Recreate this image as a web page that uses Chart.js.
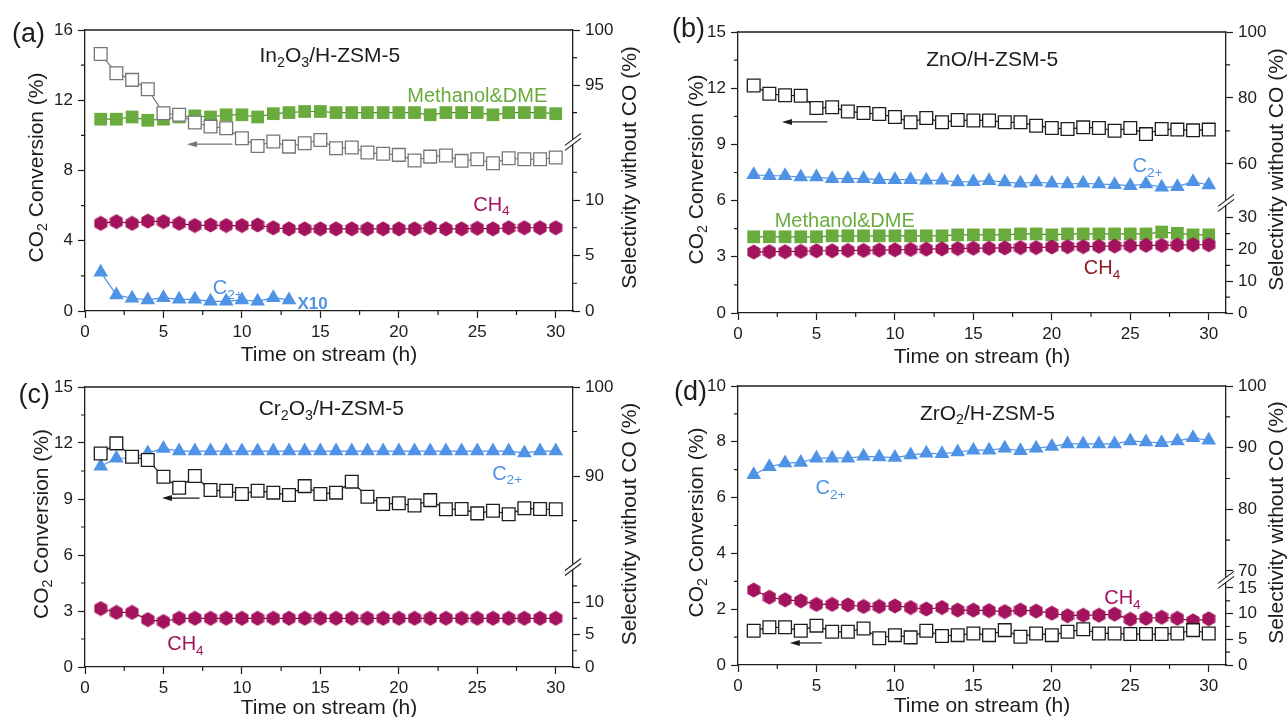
<!DOCTYPE html>
<html>
<head>
<meta charset="utf-8">
<title>CO2 conversion and selectivity vs time on stream</title>
<script src="https://cdn.jsdelivr.net/npm/chart.js@4.4.0/dist/chart.umd.min.js"></script>
<style>
  body { margin: 0; background: #fff; width: 1288px; height: 717px; position: relative; overflow: hidden; }
  canvas { position: absolute; }
</style>
</head>
<body>
<canvas id="chartA" width="644" height="372" style="left:0;top:0"></canvas>
<canvas id="chartB" width="644" height="372" style="left:644px;top:0"></canvas>
<canvas id="chartC" width="644" height="359" style="left:0;top:358px"></canvas>
<canvas id="chartD" width="644" height="359" style="left:644px;top:358px"></canvas>
<script>
// ---- data ----
const hours = [1,2,3,4,5,6,7,8,9,10,11,12,13,14,15,16,17,18,19,20,21,22,23,24,25,26,27,28,29,30];
const hoursShort = [1,2,3,4,5,6,7,8,9,10,11,12,13];

const xTicks = [0,5,10,15,20,25,30];
const xMinor = [2.5,7.5,12.5,17.5,22.5,27.5];

// (a) In2O3/H-ZSM-5
const convA = [14.63,13.54,13.16,12.63,11.26,11.17,10.73,10.50,10.41,9.84,9.40,9.65,9.36,9.55,9.74,9.27,9.31,9.02,8.95,8.89,8.57,8.79,8.85,8.55,8.64,8.41,8.70,8.64,8.64,8.74];
const methA = [91.9,91.9,92.1,91.8,91.9,92.1,92.2,92.1,92.3,92.3,92.1,92.4,92.5,92.6,92.6,92.5,92.5,92.5,92.5,92.5,92.5,92.3,92.5,92.5,92.5,92.3,92.5,92.5,92.5,92.4];
const ch4A = [7.9,8.05,7.9,8.1,8.05,7.9,7.7,7.75,7.7,7.7,7.75,7.5,7.4,7.4,7.4,7.4,7.4,7.4,7.4,7.4,7.4,7.5,7.4,7.4,7.45,7.4,7.5,7.5,7.5,7.5];
const c2A = [3.5,1.45,1.15,1.0,1.2,1.05,1.05,0.87,0.87,1.0,0.87,1.2,1.0];
const leftTicksA = [0,4,8,12,16];
const leftMinorA = [2,6,10,14];
const rightTicksA = [0,5,10,95,100];
const rightMinorA = [2.5,7.5,12.5,92.5,97.5];

// (b) ZnO/H-ZSM-5
const convB = [12.14,11.70,11.62,11.60,10.94,10.98,10.76,10.68,10.62,10.46,10.18,10.41,10.18,10.30,10.28,10.28,10.18,10.18,10.00,9.88,9.82,9.91,9.88,9.73,9.88,9.55,9.82,9.79,9.75,9.79];
const c2B = [56.7,56.4,56.4,56.0,56.0,55.5,55.5,55.5,55.2,55.2,55.2,55.0,55.0,54.5,54.6,54.9,54.5,54.1,54.5,54.1,53.9,54.1,53.9,53.7,53.4,53.9,52.9,53.1,54.6,53.6];
const methB = [24.0,24.0,24.0,24.0,24.0,24.3,24.3,24.3,24.3,24.3,24.3,24.3,24.3,24.6,24.6,24.6,24.6,24.9,24.9,24.6,24.9,24.9,24.9,24.9,24.9,24.9,25.5,25.1,24.6,24.6];
const ch4B = [19.2,19.3,19.3,19.4,19.6,19.6,19.7,19.7,19.8,19.9,20.0,20.1,20.2,20.3,20.4,20.4,20.5,20.6,20.6,20.8,20.9,20.9,21.0,21.1,21.2,21.3,21.3,21.4,21.5,21.5];
const leftTicksB = [0,3,6,9,12,15];
const leftMinorB = [1.5,4.5,7.5,10.5,13.5];
const rightTicksB = [0,10,20,30,60,80,100];
const rightMinorB = [5,15,25,70,90];

// (c) Cr2O3/H-ZSM-5
const convC = [11.44,11.98,11.26,11.09,10.19,9.60,10.23,9.48,9.44,9.27,9.44,9.34,9.21,9.69,9.27,9.34,9.93,9.12,8.73,8.77,8.65,8.94,8.45,8.46,8.23,8.37,8.18,8.50,8.46,8.45];
const c2C = [91.1,92.0,92.0,92.6,93.1,92.8,92.8,92.8,92.8,92.8,92.8,92.8,92.8,92.8,92.8,92.8,92.8,92.8,92.8,92.8,92.8,92.8,92.8,92.8,92.8,92.8,92.8,92.6,92.8,92.8];
const ch4C = [9.0,8.4,8.4,7.3,7.0,7.5,7.5,7.5,7.5,7.5,7.5,7.5,7.5,7.5,7.5,7.5,7.5,7.5,7.5,7.5,7.5,7.5,7.5,7.5,7.5,7.5,7.5,7.5,7.5,7.5];
const leftTicksC = [0,3,6,9,12,15];
const leftMinorC = [1.5,4.5,7.5,10.5,13.5];
const rightTicksC = [0,5,10,90,100];
const rightMinorC = [2.5,7.5,12.5,85,95];

// (d) ZrO2/H-ZSM-5
const convD = [1.23,1.35,1.35,1.23,1.41,1.19,1.19,1.31,0.96,1.07,0.99,1.23,1.04,1.07,1.13,1.07,1.25,1.01,1.13,1.07,1.19,1.28,1.13,1.13,1.11,1.11,1.11,1.13,1.25,1.13];
const c2D = [85.6,86.9,87.5,87.6,88.3,88.3,88.3,88.6,88.5,88.4,88.8,89.1,89.0,89.3,89.6,89.6,89.9,89.5,89.9,90.2,90.6,90.6,90.6,90.6,91.1,90.9,90.8,91.1,91.6,91.2];
const ch4D = [14.6,13.2,12.7,12.5,11.8,11.8,11.7,11.4,11.4,11.5,11.2,10.9,11.2,10.7,10.7,10.6,10.4,10.7,10.5,10.1,9.6,9.7,9.7,9.9,8.9,9.1,9.3,9.1,8.6,9.0];
const leftTicksD = [0,2,4,6,8,10];
const leftMinorD = [1,3,5,7,9];
const rightTicksD = [0,5,10,15,70,80,90,100];
const rightMinorD = [2.5,7.5,12.5,75,85,95];

// ---- styling ----
const FONT = '"Liberation Sans", Arial, sans-serif';
const INK = '#1c1c1c';
const GRAY = '#767676';
const BLUE = '#4f93e6';
const GREEN = '#69ab3d';
const MAGENTA = '#a3125d';
const MAROON = '#8a1c22';
const X_MAX = 31.1;

function hexagon(color) {
    const c = document.createElement('canvas');
    c.width = 14; c.height = 16;
    const g = c.getContext('2d');
    g.fillStyle = color;
    g.beginPath();
    g.moveTo(7, 0.5); g.lineTo(13.5, 4.25); g.lineTo(13.5, 11.75);
    g.lineTo(7, 15.5); g.lineTo(0.5, 11.75); g.lineTo(0.5, 4.25);
    g.closePath();
    g.fill();
    return c;
}
const hexMagenta = hexagon(MAGENTA);

// text with _{...} subscripts
function parseRich(s) {
    const out = [];
    const re = /_\{([^}]*)\}/g;
    let last = 0, m;
    while ((m = re.exec(s)) !== null) {
        if (m.index > last) out.push({ t: s.slice(last, m.index) });
        out.push({ t: m[1], sub: true });
        last = re.lastIndex;
    }
    if (last < s.length) out.push({ t: s.slice(last) });
    return out;
}

function drawRich(ctx, s, x, y, size, color, align, bold) {
    const parts = parseRich(s);
    const weight = bold ? 'bold ' : '';
    const fontFor = p => weight + (p.sub ? size * 0.68 : size) + 'px ' + FONT;
    ctx.save();
    ctx.fillStyle = color;
    ctx.textBaseline = 'alphabetic';
    ctx.textAlign = 'left';
    let total = 0;
    parts.forEach(p => { ctx.font = fontFor(p); total += ctx.measureText(p.t).width; });
    let cx = align === 'center' ? x - total / 2 : (align === 'right' ? x - total : x);
    const base = y + size * 0.36;
    parts.forEach(p => {
        ctx.font = fontFor(p);
        ctx.fillText(p.t, cx, p.sub ? base + size * 0.22 : base);
        cx += ctx.measureText(p.t).width;
    });
    ctx.restore();
}

// position of a selectivity value on the broken right axis (in left-axis units)
function rightPos(r, P) {
    const low = r * P.brk.kLow;
    return low <= P.brk.at ? low : P.leftMax - (100 - r) * P.brk.kHigh;
}

function pts(xs, ys, P, right) {
    return xs.map((h, i) => ({ x: h, y: right ? rightPos(ys[i], P) : ys[i] }));
}

function openSquares(xs, ys, P, color) {
    return { data: pts(xs, ys, P, false), yAxisID: 'y', borderColor: color, backgroundColor: '#fff',
        borderWidth: 1.2, pointStyle: 'rect', pointRadius: 9, pointBorderWidth: 1.3,
        pointBackgroundColor: '#fff', pointBorderColor: color, tension: 0 };
}
function filled(xs, ys, P, style, color, lineColor, radius) {
    return { data: pts(xs, ys, P, true), yAxisID: 'y2', borderColor: lineColor, backgroundColor: color,
        borderWidth: 1.2, pointStyle: style, pointRadius: radius, pointBorderWidth: 0,
        pointBackgroundColor: color, pointBorderColor: color, tension: 0 };
}

const panels = [
    { id: 'chartA', letter: '(a)', area: { left: 85, right: 573, top: 30, bottom: 311 },
      leftMax: 16, leftTicks: leftTicksA, leftMinor: leftMinorA, rightTicks: rightTicksA, rightMinor: rightMinorA,
      brk: { kLow: 0.632, kHigh: 0.627, at: 9.63 },
      letterPos: [45, 32], leftTitleX: 35, rightTitleX: 628, xTitleGap: 42, arrowColor: GRAY,
      arrow: [9.4, 6.5, 9.5],
      notes: [
          { t: 'In_{2}O_{3}/H-ZSM-5', x: 15.6, y: 14.6, size: 21, color: INK },
          { t: 'Methanol&DME', x: 25.0, y: 12.3, size: 20, color: GREEN },
          { t: 'CH_{4}', x: 25.9, y: 6.1, size: 20, color: MAGENTA },
          { t: 'C_{2+}', x: 9.1, y: 1.35, size: 20, color: BLUE },
          { t: 'X10', x: 14.5, y: 0.45, size: 17, color: BLUE, bold: true }
      ],
      sets: P => [
          openSquares(hours, convA, P, GRAY),
          filled(hours, ch4A, P, hexMagenta, MAGENTA, '#7a0d2a', 8),
          filled(hours, methA, P, 'rect', GREEN, '#4f8a2a', 9),
          filled(hoursShort, c2A, P, 'triangle', BLUE, BLUE, 8.5)
      ] },
    { id: 'chartB', letter: '(b)', area: { left: 94, right: 582, top: 32, bottom: 313 },
      leftMax: 15, leftTicks: leftTicksB, leftMinor: leftMinorB, rightTicks: rightTicksB, rightMinor: rightMinorB,
      brk: { kLow: 0.1695, kHigh: 0.176, at: 5.88 },
      letterPos: [61, 27], leftTitleX: 51, rightTitleX: 631, xTitleGap: 42, arrowColor: INK,
      arrow: [5.7, 2.8, 10.2],
      notes: [
          { t: 'ZnO/H-ZSM-5', x: 16.2, y: 13.6, size: 21, color: INK },
          { t: 'Methanol&DME', x: 6.8, y: 4.97, size: 20, color: GREEN },
          { t: 'CH_{4}', x: 23.2, y: 2.46, size: 20, color: MAROON },
          { t: 'C_{2+}', x: 26.1, y: 7.9, size: 20, color: BLUE }
      ],
      sets: P => [
          openSquares(hours, convB, P, INK),
          filled(hours, c2B, P, 'triangle', BLUE, BLUE, 8.5),
          filled(hours, ch4B, P, hexMagenta, MAGENTA, '#7a0d2a', 8),
          filled(hours, methB, P, 'rect', GREEN, '#4f8a2a', 9)
      ] },
    { id: 'chartC', letter: '(c)', area: { left: 85, right: 573, top: 29, bottom: 309 },
      leftMax: 15, leftTicks: leftTicksC, leftMinor: leftMinorC, rightTicks: rightTicksC, rightMinor: rightMinorC,
      brk: { kLow: 0.348, kHigh: 0.477, at: 5.36 },
      letterPos: [50, 35], leftTitleX: 40, rightTitleX: 628, xTitleGap: 39, arrowColor: INK,
      arrow: [7.3, 4.9, 9.05],
      notes: [
          { t: 'Cr_{2}O_{3}/H-ZSM-5', x: 15.7, y: 13.9, size: 21, color: INK },
          { t: 'C_{2+}', x: 26.9, y: 10.4, size: 20, color: BLUE },
          { t: 'CH_{4}', x: 6.4, y: 1.29, size: 20, color: MAGENTA }
      ],
      sets: P => [
          openSquares(hours, convC, P, INK),
          filled(hours, c2C, P, 'triangle', BLUE, BLUE, 8.5),
          filled(hours, ch4C, P, hexMagenta, MAGENTA, '#7a0d2a', 8)
      ] },
    { id: 'chartD', letter: '(d)', area: { left: 94, right: 582, top: 28, bottom: 307 },
      leftMax: 10, leftTicks: leftTicksD, leftMinor: leftMinorD, rightTicks: rightTicksD, rightMinor: rightMinorD,
      brk: { kLow: 0.184, kHigh: 0.221, at: 3.05 },
      letterPos: [63, 32], leftTitleX: 51, rightTitleX: 631, xTitleGap: 39, arrowColor: INK,
      arrow: [5.35, 3.3, 0.79],
      notes: [
          { t: 'ZrO_{2}/H-ZSM-5', x: 15.9, y: 9.07, size: 21, color: INK },
          { t: 'C_{2+}', x: 5.9, y: 6.38, size: 20, color: BLUE },
          { t: 'CH_{4}', x: 24.5, y: 2.44, size: 20, color: MAGENTA }
      ],
      sets: P => [
          openSquares(hours, convD, P, INK),
          filled(hours, c2D, P, 'triangle', BLUE, BLUE, 8.5),
          filled(hours, ch4D, P, hexMagenta, MAGENTA, '#7a0d2a', 8)
      ] }
];

function makePanel(P) {
    const canvas = document.getElementById(P.id);
    const W = canvas.width, H = canvas.height;
    const grid = { drawOnChartArea: false, drawTicks: true, tickLength: 7, tickWidth: 1.2, tickColor: INK };
    const border = { display: true, color: INK, width: 1.3 };
    const tickFont = { family: FONT, size: 17 };

    const decor = {
        id: 'decor',
        afterDraw(chart) {
            const ctx = chart.ctx;
            const a = chart.chartArea;
            const x = chart.scales.x, y = chart.scales.y, y2 = chart.scales.y2;
            ctx.save();
            ctx.strokeStyle = INK;
            ctx.lineWidth = 1.3;
            // top frame line
            ctx.beginPath(); ctx.moveTo(a.left, a.top); ctx.lineTo(a.right, a.top); ctx.stroke();
            // minor ticks
            ctx.lineWidth = 1.2;
            ctx.beginPath();
            xMinor.forEach(v => { const px = x.getPixelForValue(v); ctx.moveTo(px, a.bottom); ctx.lineTo(px, a.bottom + 4); });
            P.leftMinor.forEach(v => { const py = y.getPixelForValue(v); ctx.moveTo(a.left, py); ctx.lineTo(a.left - 4, py); });
            P.rightMinor.forEach(v => { const py = y2.getPixelForValue(rightPos(v, P)); ctx.moveTo(a.right, py); ctx.lineTo(a.right + 4, py); });
            ctx.stroke();
            // axis break on the right axis
            const yb = y2.getPixelForValue(P.brk.at);
            ctx.fillStyle = '#fff';
            ctx.fillRect(a.right - 2, yb - 2.5, 4, 5);
            ctx.beginPath();
            ctx.moveTo(a.right - 8, yb + 8.5); ctx.lineTo(a.right + 8, yb - 3.5);
            ctx.moveTo(a.right - 8, yb + 3.5); ctx.lineTo(a.right + 8, yb - 8.5);
            ctx.lineWidth = 1.1;
            ctx.stroke();
            // arrow pointing to the left axis
            const [x1, x2, ya] = P.arrow;
            const ax1 = x.getPixelForValue(x1), ax2 = x.getPixelForValue(x2), ay = y.getPixelForValue(ya);
            ctx.strokeStyle = P.arrowColor; ctx.fillStyle = P.arrowColor; ctx.lineWidth = 1.2;
            ctx.beginPath(); ctx.moveTo(ax1, ay); ctx.lineTo(ax2 + 6, ay); ctx.stroke();
            ctx.beginPath(); ctx.moveTo(ax2, ay); ctx.lineTo(ax2 + 10, ay - 3); ctx.lineTo(ax2 + 10, ay + 3); ctx.closePath(); ctx.fill();
            ctx.restore();

            // notes inside the plot
            P.notes.forEach(n => drawRich(ctx, n.t, x.getPixelForValue(n.x), y.getPixelForValue(n.y), n.size, n.color, 'center', n.bold));

            // axis titles
            const midY = (a.top + a.bottom) / 2 - 3;
            drawRich(ctx, 'Time on stream (h)', (a.left + a.right) / 2, a.bottom + P.xTitleGap, 21, INK, 'center');
            ctx.save();
            ctx.translate(P.leftTitleX, midY); ctx.rotate(-Math.PI / 2);
            drawRich(ctx, 'CO_{2} Conversion (%)', 0, 0, 21, INK, 'center');
            ctx.restore();
            ctx.save();
            ctx.translate(P.rightTitleX, midY); ctx.rotate(-Math.PI / 2);
            drawRich(ctx, 'Selectivity without CO (%)', 0, 0, 21, INK, 'center');
            ctx.restore();
            // panel letter
            drawRich(ctx, P.letter, P.letterPos[0], P.letterPos[1], 27, INK, 'right');
        }
    };

    return new Chart(canvas, {
        type: 'line',
        data: { datasets: P.sets(P) },
        options: {
            responsive: false,
            animation: false,
            layout: { padding: { top: P.area.top, left: 0, right: 0, bottom: 0 } },
            plugins: { legend: { display: false }, tooltip: { enabled: false } },
            scales: {
                x: {
                    type: 'linear', min: 0, max: X_MAX,
                    afterBuildTicks: s => { s.ticks = xTicks.map(v => ({ value: v })); },
                    afterFit: s => { s.height = H - P.area.bottom; },
                    grid: grid, border: border,
                    ticks: { font: tickFont, color: INK, padding: 4, maxRotation: 0, autoSkip: false, callback: v => String(v) }
                },
                y: {
                    type: 'linear', position: 'left', min: 0, max: P.leftMax,
                    afterBuildTicks: s => { s.ticks = P.leftTicks.map(v => ({ value: v })); },
                    afterFit: s => { s.width = P.area.left; },
                    grid: grid, border: border,
                    ticks: { font: tickFont, color: INK, padding: 5, autoSkip: false, callback: v => String(v) }
                },
                y2: {
                    type: 'linear', position: 'right', min: 0, max: P.leftMax,
                    afterBuildTicks: s => { s.ticks = P.rightTicks.map(v => ({ value: rightPos(v, P) })); },
                    afterFit: s => { s.width = W - P.area.right; },
                    grid: grid, border: border,
                    ticks: { font: tickFont, color: INK, padding: 5, autoSkip: false, callback: (v, i) => String(P.rightTicks[i]) }
                }
            }
        },
        plugins: [decor]
    });
}

panels.forEach(makePanel);
</script>
</body>
</html>
